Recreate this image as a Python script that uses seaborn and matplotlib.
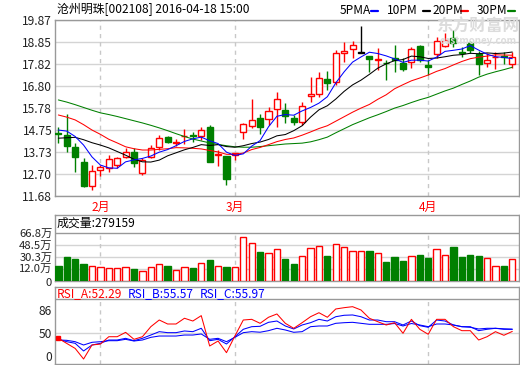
import numpy as np
import matplotlib
matplotlib.use("Agg")
import matplotlib.pyplot as plt
from matplotlib.lines import Line2D
from matplotlib.transforms import ScaledTranslation
import seaborn as sns

# ---- data (沧州明珠 002108, daily, 2016-01-25 .. 2016-04-18) ----
opens = [14.62, 14.52, 13.95, 13.27, 12.16, 12.89, 12.97, 13.12, 13.48, 13.74,
         12.74, 13.51, 13.97, 14.41, 14.13, 14.45, 14.50, 14.47, 14.88, 13.60,
         13.54, 13.59, 14.67, 14.95, 15.29, 15.25, 15.71, 15.67, 15.30, 15.11,
         16.33, 16.41, 17.11, 16.97, 18.35, 18.50, 18.35, 18.21, 18.00, 17.88,
         18.09, 17.88, 17.90, 18.67, 17.78, 18.27, 18.67, 19.05, 18.38, 18.79,
         18.31, 17.88, 18.15, 18.20, 17.82]
highs = [14.90, 15.50, 14.13, 13.45, 13.12, 13.12, 13.60, 13.50, 13.90, 13.90,
         13.45, 14.05, 14.50, 14.47, 14.35, 14.78, 14.65, 14.88, 15.00, 13.82,
         13.54, 13.70, 15.10, 16.19, 15.50, 15.84, 16.50, 15.99, 15.45, 16.04,
         17.23, 17.44, 17.50, 18.47, 18.86, 18.89, 19.60, 18.21, 18.55, 18.00,
         18.70, 18.09, 18.60, 18.70, 18.00, 19.09, 19.25, 19.40, 18.63, 18.90,
         18.42, 18.32, 18.40, 18.38, 18.40]
lows = [14.13, 13.74, 12.81, 12.12, 11.96, 12.61, 12.80, 13.00, 13.45, 13.05,
        12.65, 13.45, 13.83, 14.15, 14.00, 14.08, 14.20, 14.28, 13.28, 13.08,
        12.19, 13.35, 14.33, 14.83, 14.55, 14.98, 14.90, 15.06, 14.98, 14.98,
        16.07, 16.30, 16.60, 16.85, 17.93, 18.09, 18.35, 17.46, 17.54, 17.08,
        17.46, 17.50, 17.62, 17.93, 17.31, 18.09, 18.60, 18.63, 18.16, 18.35,
        17.31, 17.70, 17.60, 17.80, 17.62]
closes = [14.55, 14.02, 13.51, 12.15, 12.86, 13.02, 13.39, 13.43, 13.74, 13.23,
          13.36, 13.93, 14.36, 14.21, 14.20, 14.47, 14.47, 14.75, 13.28, 13.62,
          12.46, 13.70, 15.02, 15.22, 14.90, 15.64, 16.18, 15.39, 15.11, 15.88,
          16.44, 17.16, 16.92, 18.32, 18.44, 18.70, 18.35, 18.04, 18.04, 17.85,
          18.01, 17.59, 18.52, 18.01, 17.67, 18.89, 18.94, 18.79, 18.33, 18.47,
          17.82, 18.00, 18.17, 18.17, 18.17]

ma5 = [14.75, 14.70, 14.45, 14.05, 13.50, 13.12, 12.99, 12.97, 13.27, 13.36,
       13.43, 13.54, 13.72, 13.84, 14.02, 14.22, 14.34, 14.42, 14.25, 14.12,
       13.72, 13.57, 13.64, 14.00, 14.26, 14.90, 15.39, 15.47, 15.44, 15.64,
       15.80, 16.00, 16.30, 16.94, 17.46, 17.91, 18.15, 18.37, 18.31, 18.20,
       18.06, 17.90, 18.00, 18.00, 17.96, 18.14, 18.41, 18.46, 18.52, 18.68,
       18.47, 18.28, 18.16, 18.13, 18.07]
ma10 = [14.37, 14.39, 14.41, 14.30, 14.16, 14.05, 13.92, 13.75, 13.58, 13.39,
        13.27, 13.26, 13.35, 13.55, 13.69, 13.83, 13.94, 14.07, 14.03, 14.07,
        13.98, 13.95, 14.02, 14.12, 14.19, 14.31, 14.48, 14.54, 14.72, 14.95,
        15.35, 15.69, 15.88, 16.19, 16.55, 16.85, 17.07, 17.34, 17.63, 17.83,
        17.98, 18.03, 18.19, 18.16, 18.08, 18.10, 18.16, 18.23, 18.26, 18.32,
        18.30, 18.34, 18.31, 18.33, 18.38]
ma20 = [15.45, 15.35, 15.22, 15.00, 14.75, 14.55, 14.32, 14.15, 13.97, 13.88,
        13.82, 13.82, 13.85, 13.88, 13.93, 13.92, 13.90, 13.87, 13.80, 13.73,
        13.62, 13.61, 13.68, 13.84, 13.94, 14.07, 14.21, 14.31, 14.38, 14.51,
        14.66, 14.82, 14.95, 15.16, 15.37, 15.58, 15.77, 15.94, 16.18, 16.39,
        16.67, 16.86, 17.04, 17.17, 17.31, 17.48, 17.61, 17.78, 17.94, 18.07,
        18.14, 18.19, 18.25, 18.24, 18.23]
ma30 = [16.15, 16.05, 15.93, 15.80, 15.67, 15.55, 15.47, 15.38, 15.28, 15.18,
        15.08, 14.97, 14.85, 14.72, 14.58, 14.45, 14.33, 14.24, 14.15, 14.08,
        14.02, 13.97, 13.95, 13.95, 13.98, 14.02, 14.06, 14.10, 14.12, 14.14,
        14.20, 14.30, 14.42, 14.62, 14.81, 15.00, 15.16, 15.32, 15.46, 15.61,
        15.77, 15.89, 16.03, 16.16, 16.27, 16.42, 16.57, 16.70, 16.87, 17.03,
        17.21, 17.35, 17.46, 17.56, 17.67]

# volume in 万 (10k shares)
volume = [17.1, 30.5, 27.5, 19.6, 16.6, 15.1, 13.6, 13.6, 15.1, 12.6,
          9.1, 14.7, 19.2, 17.1, 11.1, 15.1, 14.1, 21.1, 26.0, 16.6,
          15.1, 15.1, 60.0, 50.6, 37.9, 35.6, 41.8, 27.4, 19.6, 31.6,
          43.1, 46.6, 31.6, 49.6, 44.6, 38.6, 38.6, 39.1, 35.6, 22.6,
          30.1, 24.1, 31.1, 33.1, 28.6, 41.6, 32.6, 45.1, 30.1, 33.1,
          31.6, 28.1, 16.2, 16.6, 27.9]

rsi_a = [41.2, 33.0, 25.0, 8.0, 30.5, 32.0, 43.8, 43.8, 50.8, 39.6,
         43.8, 59.9, 70.6, 64.2, 64.2, 73.4, 69.0, 77.6, 28.9, 36.9,
         18.2, 44.9, 70.6, 71.7, 65.3, 75.0, 80.3, 65.3, 57.3, 66.3,
         75.9, 82.3, 75.0, 88.3, 90.4, 92.0, 86.7, 73.4, 67.9, 62.6,
         66.3, 49.3, 71.7, 55.7, 47.7, 71.7, 71.7, 59.9, 53.5, 53.5,
         38.5, 43.8, 51.9, 46.1, 52.29]
rsi_b = [39.6, 35.8, 33.2, 20.9, 30.5, 33.2, 38.5, 38.5, 41.2, 37.4,
         41.2, 46.5, 51.9, 50.3, 50.3, 53.0, 51.9, 57.3, 37.4, 39.6,
         32.1, 43.8, 55.7, 59.9, 60.5, 66.9, 69.0, 61.0, 56.2, 62.6,
         66.3, 71.7, 69.0, 75.9, 78.2, 78.7, 75.9, 70.6, 70.6, 67.9,
         67.9, 62.6, 69.0, 61.5, 58.9, 70.6, 69.0, 62.6, 59.9, 59.9,
         53.5, 55.7, 57.3, 55.7, 55.57]
rsi_c = [38.5, 38.0, 35.8, 30.5, 34.8, 35.8, 37.4, 37.4, 39.6, 36.9,
         38.5, 42.8, 44.9, 44.9, 44.9, 46.5, 46.5, 48.2, 39.6, 41.2,
         35.8, 42.8, 50.3, 51.9, 51.0, 53.5, 57.3, 54.6, 50.9, 51.9,
         59.9, 61.0, 61.0, 65.3, 66.3, 66.9, 65.3, 63.7, 63.7, 63.7,
         65.0, 61.0, 65.0, 62.6, 59.9, 64.2, 64.2, 62.6, 59.9, 58.9,
         56.2, 57.3, 57.3, 56.5, 55.97]

price_ticks = [11.68, 12.70, 13.73, 14.75, 15.78, 16.80, 17.82, 18.85, 19.87]
vol_ticks = [12.0, 30.3, 48.5, 66.8]
vol_tick_labels = ["12.0万", "30.3万", "48.5万", "66.8万"]
rsi_ticks = [0, 50, 86]
month_starts = [5, 21, 44]          # first trading day of Feb / Mar / Apr
month_labels = ["2月", "3月", "4月"]

# ---- style ----
sns.set_style("white")
plt.rcParams["font.family"] = ["Noto Sans CJK SC", "DejaVu Sans"]
RED, GREEN, BLUE, BLACK = "#ff0000", "#008000", "#0000ff", "#000000"
BORDER, GRID, DASH = "#999999", "#d4d4d4", "#c8c8c8"
FS = 8.6
LW = 0.75

W, H = 520, 365
fig = plt.figure(figsize=(W / 100, H / 100), dpi=100)


def add_ax(l, t, r, b):
    return fig.add_axes([l / W, 1 - b / H, (r - l) / W, (b - t) / H])


def ftext(x, y, s, **kw):
    kw.setdefault("fontsize", FS)
    fig.text(x / W, 1 - y / H, s, va="center", **kw)


def nudge(label, dy_px):
    label.set_transform(label.get_transform() +
                        ScaledTranslation(0, dy_px / 100, fig.dpi_scale_trans))


def style_ax(ax):
    for sp in ax.spines.values():
        sp.set_color(BORDER)
        sp.set_linewidth(1)
    ax.tick_params(axis="both", length=0, labelsize=FS, colors="#222222", pad=2)
    ax.set_xticks([])
    ax.set_xlim(-0.4, 54.8)


idx = np.arange(len(closes))
o, c, hi, lo = map(np.array, (opens, closes, highs, lows))
candle_col = np.where(c > o, RED, np.where(c < o, GREEN, BLACK))

# ---- price panel ----
ax1 = add_ax(55, 20, 519, 196)
style_ax(ax1)
ax1.set_ylim(price_ticks[0], price_ticks[-1])
ax1.set_yticks(price_ticks)
ax1.set_yticklabels([f"{v:.2f}" for v in price_ticks])
for v in price_ticks:
    ax1.axhline(v, color=GRID, lw=1, zorder=0)
for m in month_starts:
    ax1.axvline(m, color=DASH, lw=1, ls=(0, (3, 3)), zorder=0)

ax1.vlines(idx, lo, hi, colors=candle_col, lw=1, zorder=2)
body = np.where(np.abs(c - o) < 0.02, 0.02, c - o)
face = np.where(c > o, "white", candle_col)
ax1.bar(idx, body, bottom=o, width=0.72, color=face, edgecolor=candle_col,
        linewidth=1, zorder=3)

for series, col in [(ma30, GREEN), (ma20, RED), (ma10, BLACK), (ma5, BLUE)]:
    sns.lineplot(x=idx, y=series, ax=ax1, color=col, lw=LW, zorder=4,
                 legend=False)
ax1.set_ylabel("")

for m, lab in zip(month_starts, month_labels):
    ax1.text(m, -0.063, lab, transform=ax1.get_xaxis_transform(), ha="center",
             va="center", color=RED, fontsize=FS)

# watermark
ftext(478, 27, "东方财富网", color="#dcdcdc", fontsize=12, ha="center",
      fontweight="bold")
ftext(478, 41, "eastmoney.com", color="#dcdcdc", fontsize=7, ha="center",
      fontweight="bold")

# header + legend
ftext(57, 9, "沧州明珠[002108] 2016-04-18 15:00", color=BLACK)
legend = [("5PMA", 340, BLUE, 371), ("10PM", 387, BLACK, 423),
          ("20PM", 433, RED, 461), ("30PM", 477, GREEN, 508)]
for lab, x0, col, d0 in legend:
    ftext(x0, 10, lab, color=BLACK)
    fig.add_artist(Line2D([d0 / W, (d0 + 7) / W], [1 - 11 / H] * 2,
                          color=col, lw=1.6))

# ---- volume panel ----
VOL_FLOOR, VOL_TOP = -5.1, 93.7
ax2 = add_ax(55, 214.7, 519, 280.5)
style_ax(ax2)
ax2.set_ylim(VOL_FLOOR, VOL_TOP)
ax2.set_yticks([VOL_FLOOR] + vol_ticks)
ax2.set_yticklabels(["0"] + vol_tick_labels, fontsize=8.1)
for v in vol_ticks[:-1]:
    ax2.axhline(v, color=GRID, lw=1, zorder=0)
ax2.axhline(vol_ticks[-1], color=BORDER, lw=1, zorder=1)
ax2.vlines(month_starts, VOL_FLOOR, vol_ticks[-1], colors=DASH, lw=1,
           linestyles=(0, (3, 3)), zorder=0)
vol = np.array(volume)
vol_col = np.where(c >= o, RED, GREEN)
vol_face = np.where(c >= o, "white", GREEN)
ax2.bar(idx, vol - VOL_FLOOR, bottom=VOL_FLOOR, width=0.75, color=vol_face,
        edgecolor=vol_col, linewidth=1, zorder=3)
ylabs = ax2.get_yticklabels()
nudge(ylabs[0], -1.5)
nudge(ylabs[1], 1.5)
ftext(57, 223.5, "成交量:279159", color=BLACK)

# ---- RSI panel ----
RSI_SEP, RSI_TOP = 104.3, 123.1
ax3 = add_ax(55, 287.3, 519, 364)
style_ax(ax3)
ax3.set_ylim(0, RSI_TOP)
ax3.set_yticks(rsi_ticks)
ax3.set_yticklabels([str(v) for v in rsi_ticks])
ax3.get_yticklabels()[0].set_va("bottom")
ax3.axhline(50, color=GRID, lw=1, zorder=0)
ax3.axhline(RSI_SEP, color=BORDER, lw=1, zorder=1)
ax3.vlines(month_starts, 0, RSI_SEP, colors=DASH, lw=1, linestyles=(0, (3, 3)),
           zorder=0)
for series, col in [(rsi_c, BLUE), (rsi_b, BLUE), (rsi_a, RED)]:
    sns.lineplot(x=idx, y=series, ax=ax3, color=col, lw=LW, zorder=3,
                 legend=False)
ax3.plot(idx[:1], rsi_a[:1], "s", ms=2.5, color=RED, zorder=4)
ax3.set_ylabel("")
ftext(57, 293.5, "RSI_A:52.29", color=RED)
ftext(128, 293.5, "RSI_B:55.57", color=BLUE)
ftext(200, 293.5, "RSI_C:55.97", color=BLUE)

fig.savefig("out.png", dpi=100)
